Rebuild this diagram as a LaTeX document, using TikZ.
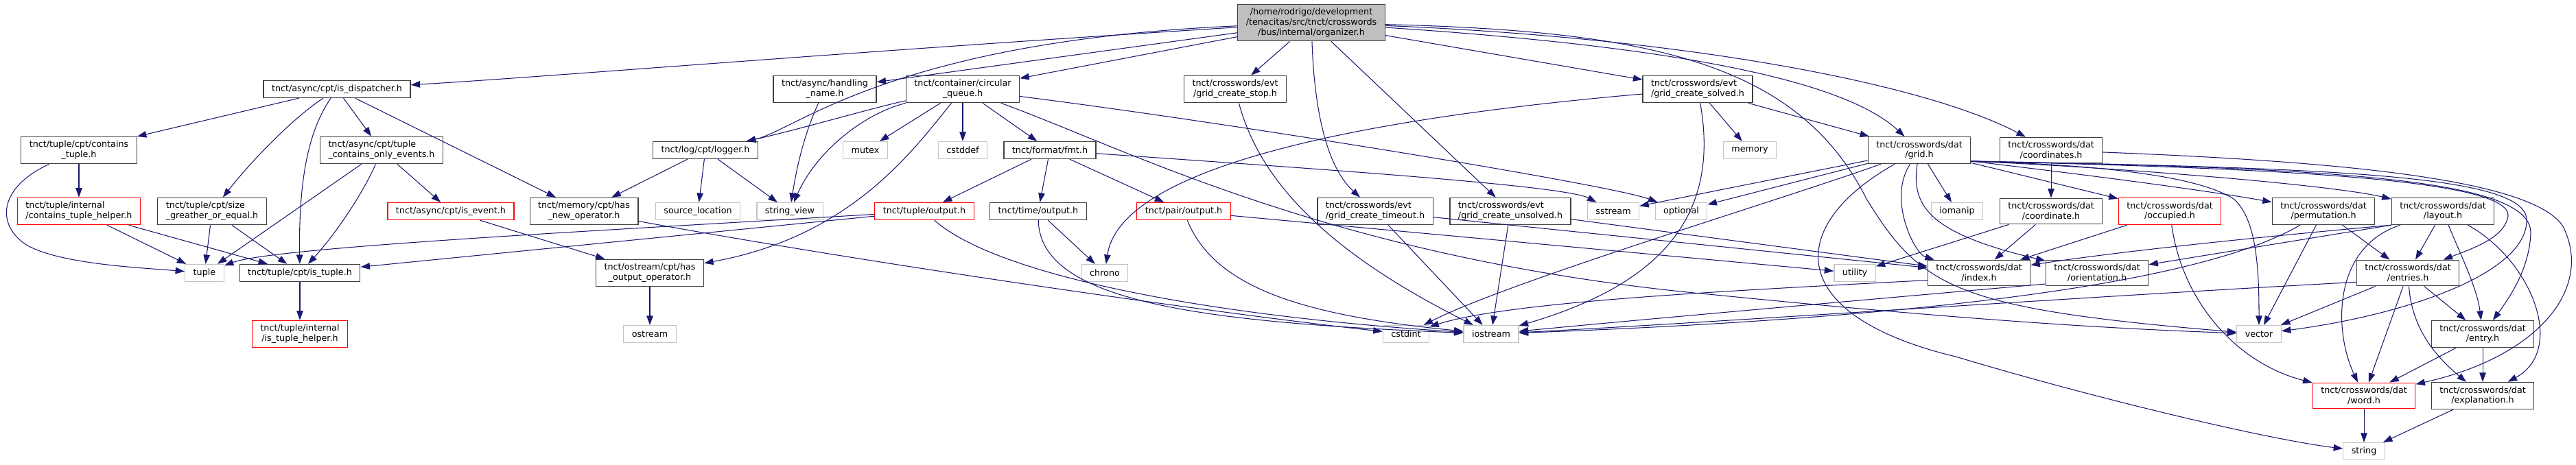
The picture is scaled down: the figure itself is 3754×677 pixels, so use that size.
\documentclass[tikz,border=0pt]{standalone}
\usepackage{fontspec}
\setmainfont{DejaVu Sans}
\usepackage{tikz}
\usetikzlibrary{arrows.meta}

\definecolor{edgeblue}{HTML}{191970}
\definecolor{boxline}{HTML}{404040}
\definecolor{rootgray}{HTML}{BFBFBF}
\definecolor{sysgray}{HTML}{C4C4C4}

\begin{document}
\begin{tikzpicture}[x=0.02cm, y=-0.02cm,
    file/.style={draw=boxline, fill=white, line width=0.7pt, inner xsep=0.24cm, inner ysep=0.12cm,
      minimum height=0.5cm, align=center, font=\fontsize{7.25pt}{8.37pt}\selectfont},
    rootfile/.style={file, fill=rootgray},
    undoc/.style={file, draw=red},
    sysfile/.style={file, draw=sysgray},
    dep/.style={draw=edgeblue, line width=0.6pt, -{Triangle[length=0.27cm, width=0.19cm]}}]
  \useasboundingbox (0,0) rectangle (3754,677);

  \node[rootfile] (org) at (1911,33) {/home/rodrigo/development\\/tenacitas/src/tnct/crosswords\\/bus/internal/organizer.h};
  \node[file] (isdisp) at (491,130) {tnct/async/cpt/is\_dispatcher.h};
  \node[file] (handl) at (1202,130) {tnct/async/handling\\\_name.h};
  \node[file] (cqueue) at (1403,130) {tnct/container/circular\\\_queue.h};
  \node[file] (gcstop) at (1800,130) {tnct/crosswords/evt\\/grid\_create\_stop.h};
  \node[file, align=left] (gcsolved) at (2474,130) {tnct/crosswords/evt\\/grid\_create\_solved.h};
  \node[file] (ctuple) at (115,219) {tnct/tuple/cpt/contains\\\_tuple.h};
  \node[file, align=left] (tcoe) at (556,219) {tnct/async/cpt/tuple\\\_contains\_only\_events.h};
  \node[file] (logger) at (1028,219) {tnct/log/cpt/logger.h};
  \node[sysfile] (mutex) at (1261,219) {mutex};
  \node[sysfile] (cstddef) at (1403,219) {cstddef};
  \node[file] (fmt) at (1530,219) {tnct/format/fmt.h};
  \node[sysfile] (memory) at (2550,219) {memory};
  \node[file] (grid) at (2797,219) {tnct/crosswords/dat\\/grid.h};
  \node[file] (coords) at (2989,219) {tnct/crosswords/dat\\/coordinates.h};
  \node[undoc, align=left] (ctuplehlp) at (115,308) {tnct/tuple/internal\\/contains\_tuple\_helper.h};
  \node[file, align=left] (sizege) at (309,308) {tnct/tuple/cpt/size\\\_greather\_or\_equal.h};
  \node[undoc] (isevent) at (657,308) {tnct/async/cpt/is\_event.h};
  \node[file] (hasnew) at (851,308) {tnct/memory/cpt/has\\\_new\_operator.h};
  \node[sysfile] (srcloc) at (1017,308) {source\_location};
  \node[sysfile] (strview) at (1151,308) {string\_view};
  \node[undoc] (tupleout) at (1347,308) {tnct/tuple/output.h};
  \node[file] (timeout) at (1513,308) {tnct/time/output.h};
  \node[undoc] (pairout) at (1725,308) {tnct/pair/output.h};
  \node[file, align=left] (gctimeout) at (2004,308) {tnct/crosswords/evt\\/grid\_create\_timeout.h};
  \node[file, align=left] (gcunsolved) at (2201,308) {tnct/crosswords/evt\\/grid\_create\_unsolved.h};
  \node[sysfile] (sstream) at (2351,308) {sstream};
  \node[sysfile] (optional) at (2450,308) {optional};
  \node[sysfile] (iomanip) at (2852,308) {iomanip};
  \node[file] (coord) at (2989,308) {tnct/crosswords/dat\\/coordinate.h};
  \node[undoc] (occupied) at (3162,308) {tnct/crosswords/dat\\/occupied.h};
  \node[file] (perm) at (3386,308) {tnct/crosswords/dat\\/permutation.h};
  \node[file] (layout) at (3560,308) {tnct/crosswords/dat\\/layout.h};
  \node[sysfile] (tuple) at (298,398) {tuple};
  \node[file] (istuple) at (437,398) {tnct/tuple/cpt/is\_tuple.h};
  \node[file] (hasout) at (947,398) {tnct/ostream/cpt/has\\\_output\_operator.h};
  \node[sysfile] (chrono) at (1610,398) {chrono};
  \node[sysfile] (utility) at (2703,398) {utility};
  \node[file] (index) at (2884,398) {tnct/crosswords/dat\\/index.h};
  \node[file] (orient) at (3056,398) {tnct/crosswords/dat\\/orientation.h};
  \node[file] (entries) at (3509,398) {tnct/crosswords/dat\\/entries.h};
  \node[undoc] (istuplehlp) at (437,487) {tnct/tuple/internal\\/is\_tuple\_helper.h};
  \node[sysfile] (ostream) at (947,487) {ostream};
  \node[sysfile] (cstdint) at (2049,487) {cstdint};
  \node[sysfile] (iostream) at (2173,487) {iostream};
  \node[sysfile] (vector) at (3292,487) {vector};
  \node[file] (entry) at (3618,487) {tnct/crosswords/dat\\/entry.h};
  \node[undoc] (word) at (3445,577) {tnct/crosswords/dat\\/word.h};
  \node[file] (expl) at (3618,577) {tnct/crosswords/dat\\/explanation.h};
  \node[sysfile] (string) at (3445,658) {string};

  \draw[dep] (org) .. controls (1240,75) and (800,112) .. (isdisp);
  \draw[dep] (org) .. controls (1300,60) and (1160,190) .. (logger);
  \draw[dep] (org) -- (handl);
  \draw[dep] (org) -- (cqueue);
  \draw[dep] (org) -- (gcstop);
  \draw[dep] (org) .. controls (1915,150) and (1930,240) .. (gctimeout);
  \draw[dep] (org) -- (gcunsolved);
  \draw[dep] (org) -- (gcsolved);
  \draw[dep] (org) .. controls (2400,65) and (2680,110) .. (grid);
  \draw[dep] (org) .. controls (2450,55) and (2800,120) .. (coords);
  \draw[dep] (org) .. controls (2400,45) and (2620,90) .. (2720,290) .. controls (2800,420) and (2850,450) .. (vector);

  \draw[dep] (isdisp) -- (ctuple);
  \draw[dep] (isdisp) .. controls (430,170) and (370,230) .. (sizege);
  \draw[dep] (isdisp) .. controls (450,190) and (435,260) .. (istuple);
  \draw[dep] (isdisp) -- (tcoe);
  \draw[dep] (isdisp) -- (hasnew);
  \draw[dep] (ctuple) -- (ctuplehlp);
  \draw[dep] (ctuple) .. controls (-5,275) and (-5,330) .. (40,358) .. controls (90,385) and (200,390) .. (tuple);
  \draw[dep] (ctuplehlp) -- (tuple);
  \draw[dep] (ctuplehlp) -- (istuple);
  \draw[dep] (sizege) -- (tuple);
  \draw[dep] (sizege) -- (istuple);
  \draw[dep] (tcoe) -- (tuple);
  \draw[dep] (tcoe) .. controls (530,280) and (490,340) .. (istuple);
  \draw[dep] (tcoe) -- (isevent);
  \draw[dep] (isevent) -- (hasout);
  \draw[dep] (istuple) -- (istuplehlp);
  \draw[dep] (hasout) -- (ostream);

  \draw[dep] (logger) -- (hasnew);
  \draw[dep] (logger) -- (srcloc);
  \draw[dep] (logger) -- (strview);
  \draw[dep] (handl) .. controls (1170,200) and (1160,250) .. (strview);
  \draw[dep] (hasnew) .. controls (1300,390) and (1800,460) .. (cstdint);

  \draw[dep] (cqueue) -- (mutex);
  \draw[dep] (cqueue) -- (cstddef);
  \draw[dep] (cqueue) -- (fmt);
  \draw[dep] (cqueue) .. controls (1280,155) and (1160,190) .. (logger);
  \draw[dep] (cqueue) .. controls (1260,165) and (1190,220) .. (strview);
  \draw[dep] (cqueue) .. controls (1330,220) and (1240,345) .. (hasout);
  \draw[dep] (cqueue) .. controls (1800,180) and (2350,270) .. (optional);
  \draw[dep] (cqueue) .. controls (1650,220) and (1950,380) .. (2500,430) .. controls (2900,470) and (3100,480) .. (vector);

  \draw[dep] (fmt) -- (tupleout);
  \draw[dep] (fmt) -- (timeout);
  \draw[dep] (fmt) -- (pairout);
  \draw[dep] (fmt) .. controls (1900,245) and (2280,270) .. (sstream);
  \draw[dep] (tupleout) .. controls (900,335) and (400,360) .. (tuple);
  \draw[dep] (tupleout) -- (istuple);
  \draw[dep] (tupleout) .. controls (1450,400) and (1750,460) .. (iostream);
  \draw[dep] (timeout) -- (chrono);
  \draw[dep] (timeout) .. controls (1515,440) and (1750,470) .. (iostream);
  \draw[dep] (pairout) .. controls (1770,420) and (1900,460) .. (iostream);
  \draw[dep] (pairout) -- (utility);

  \draw[dep] (gcstop) .. controls (1840,280) and (1960,380) .. (iostream);
  \draw[dep] (gctimeout) -- (iostream);
  \draw[dep] (gctimeout) -- (index);
  \draw[dep] (gcunsolved) -- (iostream);
  \draw[dep] (gcunsolved) -- (index);
  \draw[dep] (gcsolved) -- (memory);
  \draw[dep] (gcsolved) -- (grid);
  \draw[dep] (gcsolved) .. controls (1900,180) and (1630,260) .. (chrono);
  \draw[dep] (gcsolved) .. controls (2510,330) and (2400,420) .. (iostream);

  \draw[dep] (grid) -- (sstream);
  \draw[dep] (grid) -- (optional);
  \draw[dep] (grid) .. controls (2600,290) and (2200,410) .. (cstdint);
  \draw[dep] (grid) -- (iomanip);
  \draw[dep] (grid) .. controls (2750,290) and (2790,370) .. (index);
  \draw[dep] (grid) .. controls (2785,300) and (2810,340) .. (orient);
  \draw[dep] (grid) .. controls (2600,330) and (2600,460) .. (2850,520) .. controls (3050,580) and (3300,640) .. (string);
  \draw[dep] (grid) -- (occupied);
  \draw[dep] (grid.-12) .. controls (3050,240) and (3200,255) .. (3255,290) .. controls (3290,320) and (3292,400) .. (vector);
  \draw[dep] (grid.-12) .. controls (3000,250) and (3200,275) .. (perm);
  \draw[dep] (grid.-12) .. controls (3100,245) and (3400,270) .. (layout);
  \draw[dep] (grid.-12) .. controls (3300,245) and (3660,260) .. (3655,315) .. controls (3650,345) and (3610,360) .. (entries);
  \draw[dep] (grid.-12) .. controls (3400,245) and (3690,260) .. (3688,340) .. controls (3686,390) and (3660,430) .. (entry);
  \draw[dep] (grid.-12) .. controls (3400,245) and (3680,255) .. (3682,320) .. controls (3684,400) and (3500,460) .. (vector);

  \draw[dep] (coords) -- (coord);
  \draw[dep] (coords) .. controls (3400,235) and (3690,260) .. (3735,330) .. controls (3780,420) and (3700,520) .. (word);
  \draw[dep] (coord) -- (utility);
  \draw[dep] (coord) -- (index);
  \draw[dep] (occupied) -- (index);
  \draw[dep] (occupied) .. controls (3180,440) and (3260,530) .. (word);
  \draw[dep] (orient.192) .. controls (2800,430) and (2400,465) .. (iostream);
  \draw[dep] (index.188) .. controls (2500,425) and (2200,440) .. (cstdint);

  \draw[dep] (perm) .. controls (3230,400) and (2900,460) .. (iostream);
  \draw[dep] (perm) -- (vector);
  \draw[dep] (perm) -- (entries);
  \draw[dep] (layout.195) .. controls (3300,345) and (3100,365) .. (index);
  \draw[dep] (layout.195) -- (orient);
  \draw[dep] (layout) -- (entries);
  \draw[dep] (layout) .. controls (3585,370) and (3610,420) .. (entry);
  \draw[dep] (layout) .. controls (3690,380) and (3740,510) .. (expl);
  \draw[dep] (layout) .. controls (3400,360) and (3400,480) .. (word);
  \draw[dep] (entries.190) .. controls (3000,435) and (2500,470) .. (iostream);
  \draw[dep] (entries) -- (vector);
  \draw[dep] (entries) -- (word);
  \draw[dep] (entries) .. controls (3515,480) and (3550,520) .. (expl);
  \draw[dep] (entries) -- (entry);
  \draw[dep] (entry) -- (word);
  \draw[dep] (entry) -- (expl);
  \draw[dep] (word) -- (string);
  \draw[dep] (expl) -- (string);
\end{tikzpicture}
\end{document}
